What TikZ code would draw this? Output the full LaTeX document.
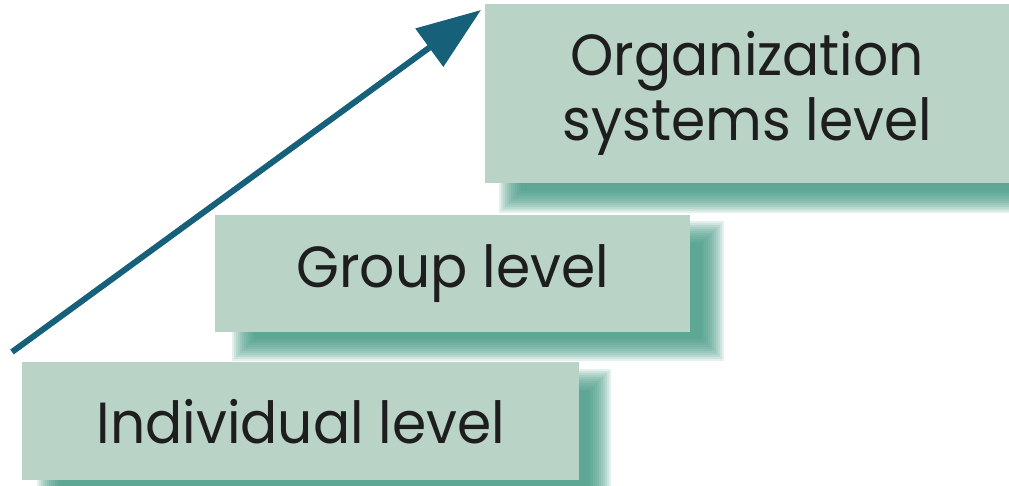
\documentclass[tikz,border=0pt]{standalone}
\usepackage{fontspec}
\setmainfont{Poppins}[FakeStretch=0.95]
\usetikzlibrary{arrows.meta}
\definecolor{boxfill}{HTML}{B9D3C7}
\definecolor{shadowteal}{HTML}{3F9680}
\definecolor{arrowteal}{HTML}{17607A}
\definecolor{inktext}{HTML}{1E1E1E}

\begin{document}
\begin{tikzpicture}[x=1pt,y=-1pt,
  levelbox/.style={fill=boxfill, inner sep=0pt, anchor=north west, text=inktext,
    font=\fontsize{58}{65}\selectfont, align=center},
  riser/.style={draw=arrowteal, line width=6pt, -{Triangle[length=64pt,width=46pt]}}]
\useasboundingbox (0,0) rectangle (1009,486);

% soft drop shadows behind the three level boxes
\foreach \xa/\ya/\xb/\yb in {48/380/600/498, 243/232/713/350, 510/22/1040/202}{
  \foreach \k in {0,...,11}{
    \fill[shadowteal, opacity=0.14]
      (\xa-11+2*\k, \ya-11+2*\k) rectangle (\xb+11-2*\k, \yb+11-2*\k);
  }
}

% level boxes
\node[levelbox, minimum width=557pt, minimum height=118pt] (indiv) at (22,362) {Individual level};
\node[levelbox, minimum width=475pt, minimum height=117pt] (group) at (215,215) {Group level};
\node[levelbox, minimum width=524pt, minimum height=179pt] (org) at (485,4) {Organization\\systems level};

% rising arrow
\coordinate (tail) at (12,352);
\coordinate (tip) at (481,10);
\draw[riser] (tail) -- (tip);
\end{tikzpicture}
\end{document}
